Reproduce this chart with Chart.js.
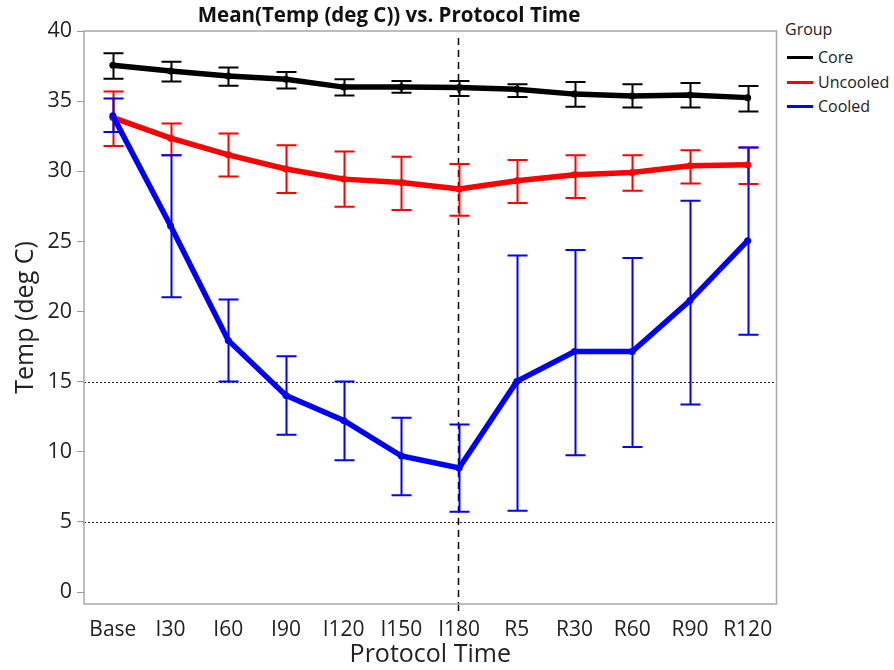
<!DOCTYPE html>
<html><head><meta charset="utf-8">
<script src="https://cdn.jsdelivr.net/npm/chart.js@4/dist/chart.umd.min.js"></script>
<style>
body{margin:0;background:#fff;font-family:'Open Sans',sans-serif;}
#wrap{position:relative;width:894px;height:670px;overflow:hidden}
canvas{position:absolute;left:0;top:0;}
.lg{position:absolute;font-size:16px;color:#222;line-height:20px;white-space:nowrap}
.sw{position:absolute;width:26px;height:3px}
</style></head><body>
<div id="wrap"><canvas id="c" width="780" height="670"></canvas><div id="legend"></div></div>
<script>
const categories = ['Base','I30','I60','I90','I120','I150','I180','R5','R30','R60','R90','R120'];
const yTicks = [0,5,10,15,20,25,30,35,40];

const coreMean = [37.56, 37.15, 36.8, 36.56, 36.0, 36.0, 35.97, 35.85, 35.5, 35.37, 35.44, 35.25];
const coreHigh = [38.41, 37.8, 37.4, 37.08, 36.56, 36.44, 36.44, 36.2, 36.37, 36.2, 36.3, 36.08];
const coreLow  = [36.6, 36.4, 36.1, 35.9, 35.4, 35.6, 35.37, 35.3, 34.6, 34.54, 34.54, 34.26];

const uncooledMean = [33.83, 32.36, 31.17, 30.16, 29.44, 29.2, 28.73, 29.32, 29.75, 29.92, 30.39, 30.46];
const uncooledHigh = [35.68, 33.4, 32.69, 31.86, 31.41, 31.03, 30.51, 30.8, 31.15, 31.15, 31.5, 31.7];
const uncooledLow  = [31.8, 31.15, 29.63, 28.45, 27.47, 27.24, 26.83, 27.73, 28.09, 28.61, 29.13, 29.09];

const cooledMean = [33.95, 26.12, 17.94, 14.02, 12.24, 9.7, 8.85, 15.02, 17.15, 17.15, 20.78, 25.05];
const cooledHigh = [35.18, 31.15, 20.85, 16.82, 15.02, 12.43, 11.94, 23.99, 24.39, 23.82, 27.9, 31.69];
const cooledLow  = [32.8, 21.02, 15.02, 11.22, 9.4, 6.9, 5.72, 5.79, 9.75, 10.34, 13.38, 18.34];

const refCategory = 'I180';
const refLevels = [15, 5];

const seriesNames = ['Core','Uncooled','Cooled'];
const seriesColors = ['#000000','#ff0000','#0000ff'];

Chart.defaults.font.family = "'Open Sans', sans-serif";

const overlay = {
  id: 'overlay',
  beforeDatasetsDraw(chart) {
    const {ctx, chartArea: a, scales: {x, y}} = chart;
    ctx.save();
    ctx.strokeStyle = '#222'; ctx.lineWidth = 1; ctx.setLineDash([2, 2]);
    refLevels.forEach(v => {
      const py = Math.round(y.getPixelForValue(v)) + 0.5;
      ctx.beginPath(); ctx.moveTo(a.left, py); ctx.lineTo(a.right, py); ctx.stroke();
    });
    const px = Math.round(x.getPixelForValue(categories.indexOf(refCategory))) - 0.5;
    ctx.strokeStyle = '#000'; ctx.lineWidth = 1.5; ctx.setLineDash([7, 5]);
    ctx.beginPath(); ctx.moveTo(px, a.top + 7); ctx.lineTo(px, a.bottom); ctx.stroke();
    ctx.setLineDash([]);
    ctx.beginPath(); ctx.moveTo(px, a.bottom); ctx.lineTo(px, a.bottom + 7); ctx.stroke();
    chart.data.datasets.forEach(ds => {
      ctx.strokeStyle = ds.borderColor; ctx.lineWidth = 2;
      ds.errLow.forEach((lo, i) => {
        const cx = Math.round(x.getPixelForValue(i)) + 0.5;
        const yl = y.getPixelForValue(lo), yh = y.getPixelForValue(ds.errHigh[i]);
        ctx.beginPath();
        ctx.moveTo(cx, yl); ctx.lineTo(cx, yh);
        ctx.moveTo(cx - 10, yl); ctx.lineTo(cx + 10, yl);
        ctx.moveTo(cx - 10, yh); ctx.lineTo(cx + 10, yh);
        ctx.stroke();
      });
    });
    ctx.restore();
  },
  afterDraw(chart) {
    const {ctx, chartArea: a} = chart;
    ctx.save();
    ctx.strokeStyle = '#a8a8a8'; ctx.lineWidth = 1.5;
    ctx.strokeRect(a.left, a.top, a.right - a.left, a.bottom - a.top);
    ctx.restore();
  }
};

function ds(i, mean, lo, hi, order) {
  return {label: seriesNames[i], data: mean, borderColor: seriesColors[i], backgroundColor: seriesColors[i],
    borderWidth: 5.5, pointRadius: 3.5, pointBorderWidth: 0, pointHoverRadius: 3.5, tension: 0, order: order, errLow: lo, errHigh: hi};
}

new Chart(document.getElementById('c'), {
  type: 'line',
  data: {
    labels: categories,
    datasets: [
      ds(0, coreMean, coreLow, coreHigh, 2),
      ds(1, uncooledMean, uncooledLow, uncooledHigh, 1),
      ds(2, cooledMean, cooledLow, cooledHigh, 0)
    ]
  },
  options: {
    responsive: false, animation: false,
    layout: {padding: {left: 0, right: 2, top: 0, bottom: 0}},
    plugins: {
      legend: {display: false}, tooltip: {enabled: false},
      title: {display: true, text: 'Mean(Temp (deg C)) vs. Protocol Time', color: '#111',
        font: {size: 20.5, weight: 'bold'}, padding: {top: 4, bottom: 2.4}}
    },
    scales: {
      x: {
        offset: true,
        grid: {display: false}, border: {display: false},
        ticks: {font: {size: 21}, color: '#222', padding: 5, maxRotation: 0, autoSkip: false},
        title: {display: true, text: 'Protocol Time', color: '#222', font: {size: 25}, padding: {top: 0, bottom: 0}},
        afterFit(s) { s.height = 66; }
      },
      y: {
        min: -0.85, max: 40,
        afterBuildTicks(s) { s.ticks = yTicks.map(v => ({value: v})); },
        grid: {drawOnChartArea: false, tickLength: 7, color: '#999'}, border: {display: false},
        ticks: {font: {size: 21.5}, color: '#222', padding: 5},
        title: {display: true, text: 'Temp (deg C)', color: '#222', font: {size: 25}, padding: {top: 11, bottom: 0}},
        afterFit(s) { s.width = 84; }
      }
    }
  },
  plugins: [overlay]
});

const lg = document.getElementById('legend');
let html = '<div class="lg" style="left:785px;top:19px">Group</div>';
[57, 82, 106].forEach((cy, i) => {
  html += `<div class="sw" style="left:787px;top:${cy - 1.5}px;background:${seriesColors[i]}"></div>`;
  html += `<div class="lg" style="left:818px;top:${cy - 10}px">${seriesNames[i]}</div>`;
});
lg.innerHTML = html;
</script>
</body></html>
